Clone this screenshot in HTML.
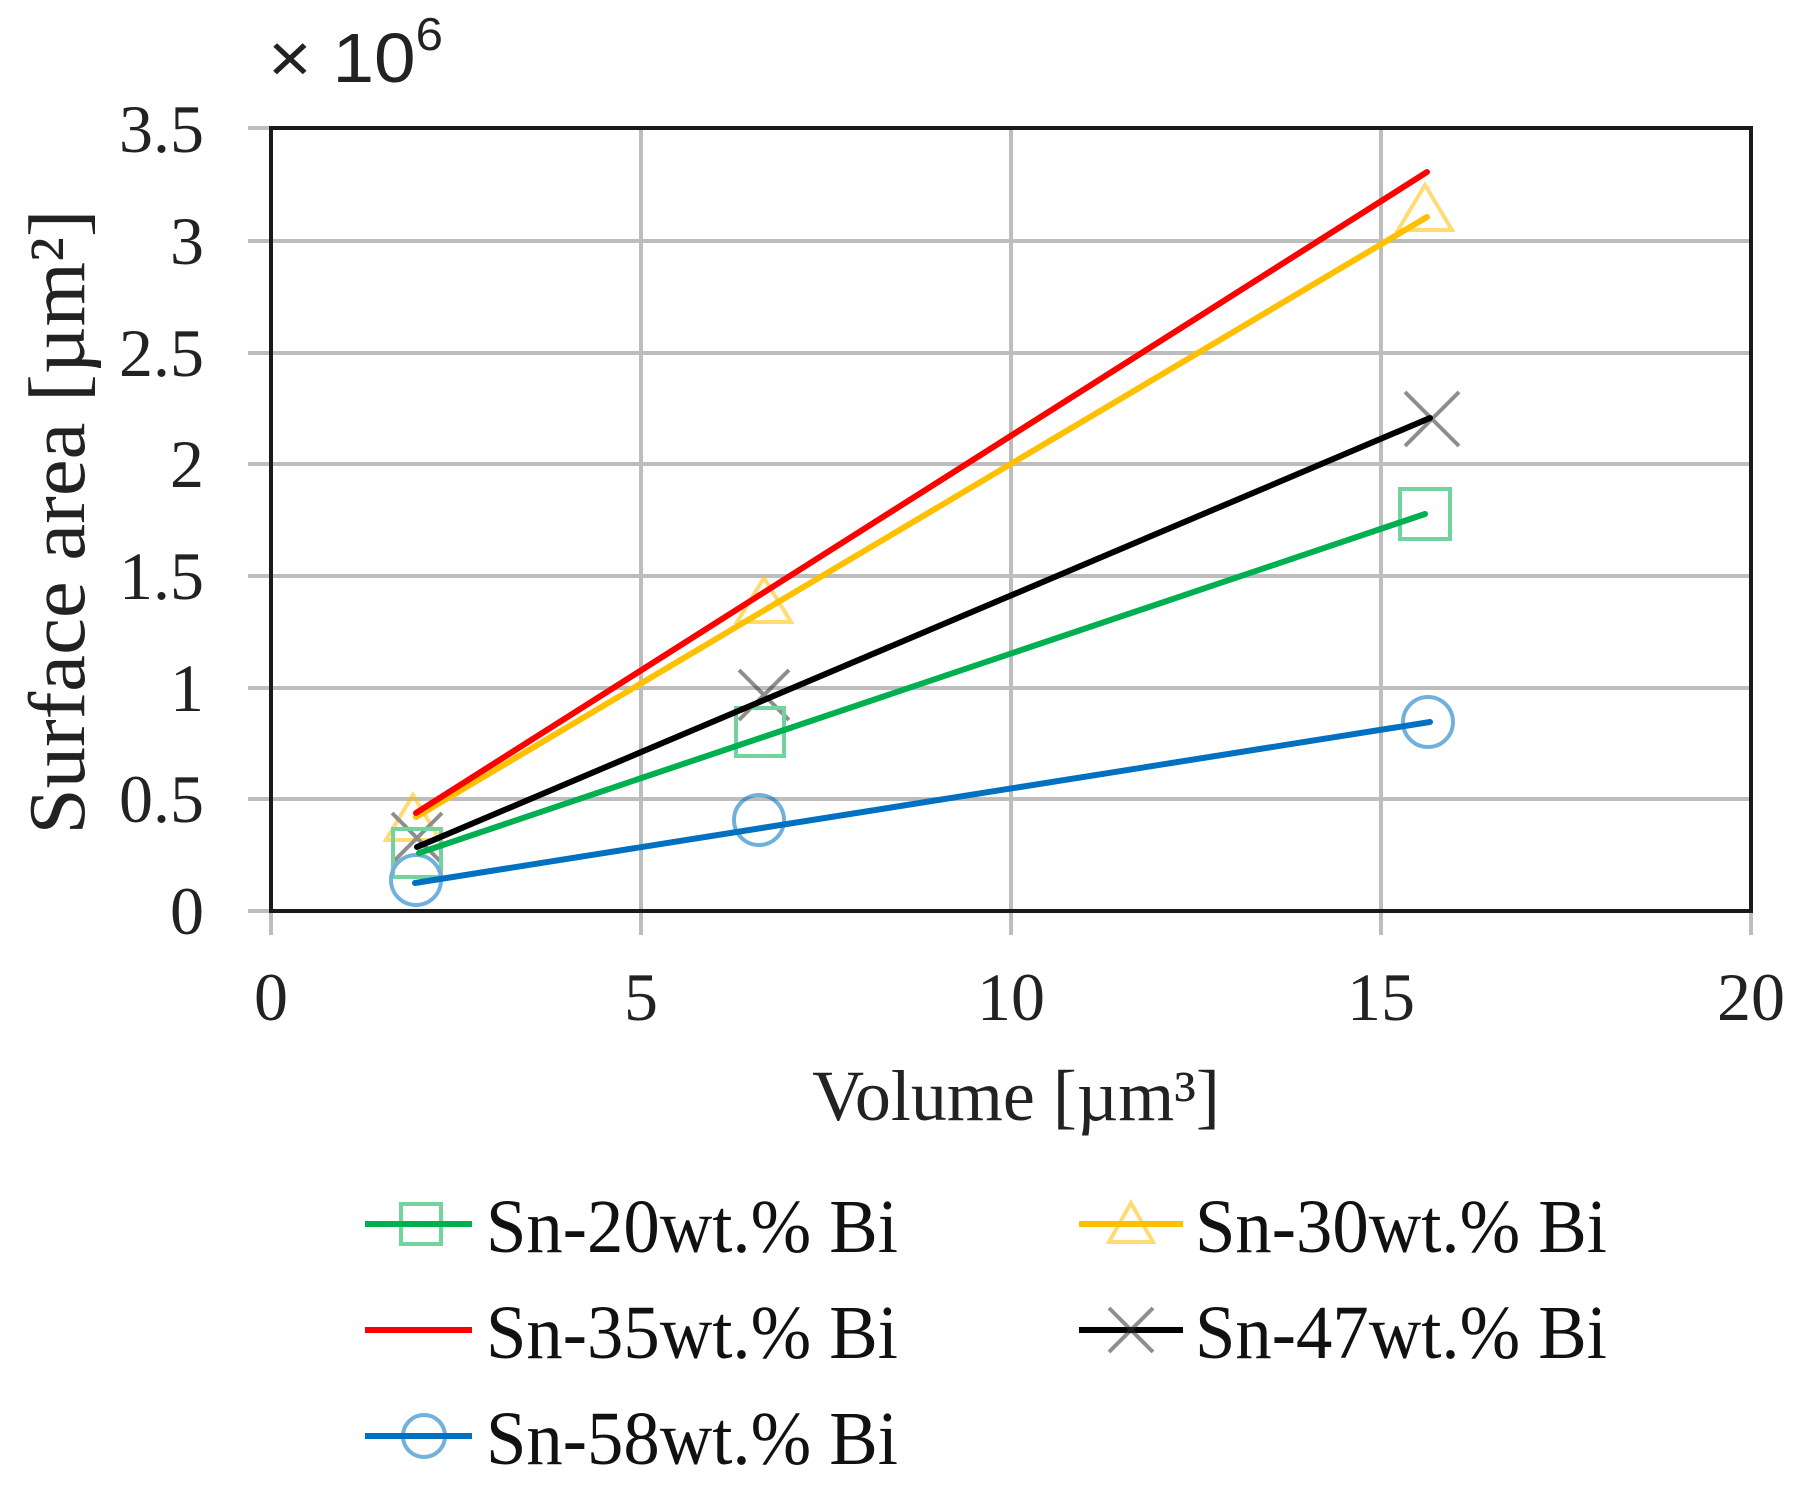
<!DOCTYPE html>
<html><head><style>body{margin:0;background:#fff}svg{display:block}</style></head><body>
<svg width="1819" height="1497" viewBox="0 0 1819 1497" xmlns="http://www.w3.org/2000/svg" font-family="'Liberation Serif',serif">
<g stroke="#bdbdbd" stroke-width="4">
<line x1="641" y1="128" x2="641" y2="935"/><line x1="1011" y1="128" x2="1011" y2="935"/><line x1="1381" y1="128" x2="1381" y2="935"/><line x1="1751" y1="128" x2="1751" y2="935"/><line x1="271" y1="911" x2="271" y2="935"/>
<line x1="248" y1="799" x2="1751" y2="799"/><line x1="248" y1="688" x2="1751" y2="688"/><line x1="248" y1="576" x2="1751" y2="576"/><line x1="248" y1="464" x2="1751" y2="464"/><line x1="248" y1="353" x2="1751" y2="353"/><line x1="248" y1="241" x2="1751" y2="241"/><line x1="248" y1="911" x2="271" y2="911"/><line x1="248" y1="128" x2="271" y2="128"/>
</g>
<rect x="271" y="128" width="1480" height="783" fill="none" stroke="#1a1a1a" stroke-width="4"/>
<g font-size="68" fill="#222" text-anchor="end">
<text x="204" y="152">3.5</text><text x="204" y="264">3</text><text x="204" y="376">2.5</text><text x="204" y="487">2</text><text x="204" y="599">1.5</text><text x="204" y="711">1</text><text x="204" y="822">0.5</text><text x="204" y="934">0</text>
</g>
<g font-size="68" fill="#222" text-anchor="middle">
<text x="271" y="1020">0</text><text x="641" y="1020">5</text><text x="1011" y="1020">10</text><text x="1381" y="1020">15</text><text x="1751" y="1020">20</text>
</g>
<text x="268" y="82" font-size="70" fill="#222" font-family="'Liberation Sans',sans-serif" textLength="175" lengthAdjust="spacingAndGlyphs">× 10<tspan font-size="46" dy="-32">6</tspan></text>
<text x="1016" y="1120" font-size="72" fill="#222" text-anchor="middle">Volume [µm³]</text>
<text transform="translate(84,522) rotate(-90)" font-size="80" fill="#222" text-anchor="middle" textLength="625" lengthAdjust="spacingAndGlyphs">Surface area [µm²]</text>
<g fill="none" stroke-width="4" opacity="0.55">
<path d="M413,795 L440,840 L386,840 Z M764,578 L791,622 L737,622 Z M1425,185 L1452,230 L1398,230 Z" stroke="#ffc000"/>
<path d="M392,813 L442,863 M442,813 L392,863 M739,670 L789,720 M789,670 L739,720 M1405,392 L1459,446 M1459,392 L1405,446" stroke="#333"/>
<rect x="393" y="829" width="48" height="48" stroke="#00b050"/><rect x="736" y="708" width="48" height="48" stroke="#00b050"/><rect x="1400" y="489" width="50" height="50" stroke="#00b050"/>
<circle cx="416" cy="880" r="25" stroke="#0070c0"/><circle cx="759" cy="820" r="25" stroke="#0070c0"/><circle cx="1428" cy="722" r="25" stroke="#0070c0"/>
</g>
<g stroke-width="6" stroke-linecap="round">
<line x1="416" y1="817" x2="1427" y2="217" stroke="#ffc000"/>
<line x1="416" y1="813" x2="1427" y2="172" stroke="#ff0000"/>
<line x1="417" y1="847" x2="1430" y2="418" stroke="#000"/>
<line x1="419" y1="853" x2="1425" y2="514" stroke="#00b050"/>
<line x1="415" y1="883" x2="1430" y2="722" stroke="#0070c0"/>
</g>
<g stroke-width="6">
<line x1="365" y1="1224" x2="472" y2="1224" stroke="#00b050"/>
<line x1="1079" y1="1224" x2="1183" y2="1224" stroke="#ffc000"/>
<line x1="365" y1="1330" x2="472" y2="1330" stroke="#ff0000"/>
<line x1="1079" y1="1330" x2="1183" y2="1330" stroke="#000"/>
<line x1="365" y1="1436" x2="472" y2="1436" stroke="#0070c0"/>
</g>
<g fill="none" stroke-width="4" opacity="0.55">
<rect x="401" y="1204" width="40" height="40" stroke="#00b050"/>
<path d="M1131,1203 L1153,1242 L1109,1242 Z" stroke="#ffc000"/>
<path d="M1109,1308 L1153,1352 M1153,1308 L1109,1352" stroke="#333"/>
<circle cx="424" cy="1436" r="21" stroke="#0070c0"/>
</g>
<g font-size="76" fill="#111">
<text x="486" y="1252" textLength="412" lengthAdjust="spacingAndGlyphs">Sn-20wt.% Bi</text>
<text x="1195" y="1252" textLength="412" lengthAdjust="spacingAndGlyphs">Sn-30wt.% Bi</text>
<text x="486" y="1358" textLength="412" lengthAdjust="spacingAndGlyphs">Sn-35wt.% Bi</text>
<text x="1195" y="1358" textLength="412" lengthAdjust="spacingAndGlyphs">Sn-47wt.% Bi</text>
<text x="486" y="1464" textLength="412" lengthAdjust="spacingAndGlyphs">Sn-58wt.% Bi</text>
</g>
</svg>
</body></html>
